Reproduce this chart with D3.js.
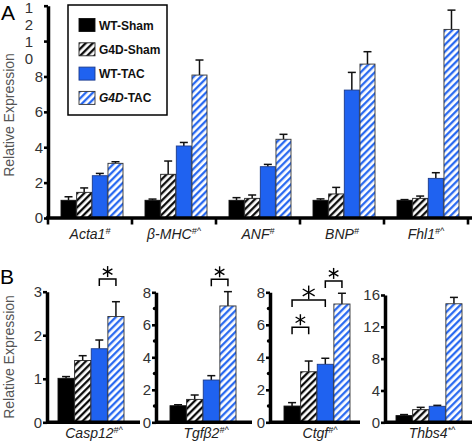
<!DOCTYPE html>
<html><head><meta charset="utf-8">
<script src="https://cdn.jsdelivr.net/npm/d3@7"></script>
<style>body{margin:0;background:#fff}svg{display:block}</style>
</head><body>
<svg id="c" width="472" height="444"></svg>
<script>
// ---------- DATA ----------
const series = ["WT-Sham", "G4D-Sham", "WT-TAC", "G4D-TAC"];

// Panel A
const genesA = ["Acta1", "β-MHC", "ANF", "BNP", "Fhl1"];
const supA = ["#", "#^", "#", "#", "#^"];
const wtShamA = [1.0, 1.0, 1.0, 1.0, 1.0];
const g4dShamA = [1.45, 2.47, 1.11, 1.36, 1.11];
const wtTacA = [2.39, 4.07, 2.9, 7.23, 2.24];
const g4dTacA = [3.09, 8.08, 4.45, 8.7, 10.66];
const wtShamErrA = [0.2, 0.07, 0.15, 0.08, 0.04];
const g4dShamErrA = [0.25, 0.75, 0.19, 0.37, 0.13];
const wtTacErrA = [0.13, 0.2, 0.13, 1.0, 0.32];
const g4dTacErrA = [0.09, 0.85, 0.28, 0.7, 1.09];
const ticksA = [0, 2, 4, 6, 8, 10, 12];

// Panel B
const genesB = ["Casp12", "Tgfβ2", "Ctgf", "Thbs4"];
const supB = ["#^", "#^", "#^", "*^"];
const wtShamB = [1.01, 1.02, 1.0, 0.84];
const g4dShamB = [1.42, 1.41, 3.11, 1.59];
const wtTacB = [1.69, 2.6, 3.57, 2.01];
const g4dTacB = [2.43, 7.16, 7.28, 14.9];
const wtShamErrB = [0.04, 0.06, 0.21, 0.13];
const g4dShamErrB = [0.11, 0.27, 0.66, 0.29];
const wtTacErrB = [0.2, 0.27, 0.37, 0.12];
const g4dTacErrB = [0.34, 0.88, 0.66, 0.8];
const yMaxB = [3, 8, 8, 16];
const ticksB = [[0, 1, 2, 3], [0, 2, 4, 6, 8], [0, 2, 4, 6, 8], [0, 4, 8, 12, 16]];
const minorTicksB = [[], [1, 3, 5, 7], [1, 3, 5, 7], []];

// significance brackets (panel B)
const brGene = [0, 1, 2, 2, 2];
const brFrom = [2, 2, 0, 0, 2];
const brTo = [3, 3, 1, 2, 3];
const brLevel = [3.29, 8.8, 5.85, 7.53, 8.7];
const brStar = [1, 1, 1, 1.25, 1];

// ---------- STYLE / LAYOUT ----------
const FONT = "'Liberation Sans', Arial, Helvetica, sans-serif";
const BLUE = "#1f62f0";
const svg = d3.select("#c");

const defs = svg.append("defs");
function hatch(id, color) {
  const p = defs.append("pattern").attr("id", id).attr("patternUnits", "userSpaceOnUse")
    .attr("width", 5).attr("height", 5).attr("patternTransform", "rotate(45)");
  p.append("rect").attr("width", 5).attr("height", 5).attr("fill", "#fff");
  p.append("line").attr("x1", 1.2).attr("y1", 0).attr("x2", 1.2).attr("y2", 5)
    .attr("stroke", color).attr("stroke-width", 2.2);
}
hatch("hK", "#000");
hatch("hB", BLUE);
const fills = ["#000", "url(#hK)", BLUE, "url(#hB)"];
const strokes = ["#111", "#222", "#1b3a8a", "#333"];

function styleAxis(g) {
  g.select(".domain").attr("stroke", "#000").attr("stroke-width", 3.5);
  g.selectAll(".tick line").attr("stroke", "#000").attr("stroke-width", 2.6);
  g.selectAll(".tick text").attr("fill", "#333").style("font-size", "15px").style("font-family", FONT);
}

function star(g, cx, cy, r) {
  [90, 30, 150].forEach(a => {
    const t = a * Math.PI / 180;
    g.append("line").attr("x1", cx - r * Math.cos(t)).attr("y1", cy - r * Math.sin(t))
      .attr("x2", cx + r * Math.cos(t)).attr("y2", cy + r * Math.sin(t))
      .attr("stroke", "#000").attr("stroke-width", 1.4);
  });
}

function label(g, x, y, main, sup) {
  const t = g.append("text").attr("x", x).attr("y", y).attr("text-anchor", "middle")
    .style("font-family", FONT).style("font-size", "14px").style("font-style", "italic").attr("fill", "#222");
  t.append("tspan").text(main);
  t.append("tspan").attr("dy", -5).style("font-size", "9px").text(sup);
}

// ---------- PANEL A ----------
const A = svg.append("g");
const yA = d3.scaleLinear().domain([0, 12]).range([218, 5.7]);
const xA = d3.scaleBand().domain(genesA).range([48, 468]);
const xInA = d3.scaleBand().domain(series).range([13, 75]).paddingInner(0.04);
const valsA = [wtShamA, g4dShamA, wtTacA, g4dTacA];
const errsA = [wtShamErrA, g4dShamErrA, wtTacErrA, g4dTacErrA];

genesA.forEach((gname, i) => {
  series.forEach((s, k) => {
    const v = valsA[k][i], e = errsA[k][i];
    const x0 = xA(gname) + xInA(s), w = xInA.bandwidth(), cx = x0 + w / 2;
    A.append("line").attr("x1", cx).attr("x2", cx).attr("y1", yA(v)).attr("y2", yA(v + e))
      .attr("stroke", "#111").attr("stroke-width", 1.5);
    A.append("line").attr("x1", cx - 4).attr("x2", cx + 4).attr("y1", yA(v + e)).attr("y2", yA(v + e))
      .attr("stroke", "#111").attr("stroke-width", 1.5);
    A.append("rect").attr("x", x0).attr("y", yA(v)).attr("width", w).attr("height", yA(0) - yA(v))
      .attr("fill", fills[k]).attr("stroke", strokes[k]).attr("stroke-width", 0.9);
  });
  label(A, xA(gname) + xA.bandwidth() / 2, 238.5, gname, supA[i]);
});

// x axis A
A.append("line").attr("x1", 46).attr("x2", 472).attr("y1", yA(0)).attr("y2", yA(0))
  .attr("stroke", "#000").attr("stroke-width", 3.5);
const bounds = genesA.map(g => xA(g)).concat([xA(genesA[genesA.length - 1]) + xA.bandwidth()]);
bounds.forEach(bx => A.append("line").attr("x1", bx).attr("x2", bx).attr("y1", yA(0)).attr("y2", yA(0) + 6.5)
  .attr("stroke", "#000").attr("stroke-width", 2.6));

// y axis A
const gyA = A.append("g").attr("transform", "translate(48,0)")
  .call(d3.axisLeft(yA).tickValues(ticksA).tickFormat(d3.format("d")).tickSizeInner(4).tickSizeOuter(0).tickPadding(1));
styleAxis(gyA);
gyA.selectAll(".tick text").each(function (d) {
  if (d >= 10) {
    const t = d3.select(this).text(null).attr("text-anchor", "middle").attr("x", -19).attr("dy", null);
    const first = d >= 12 ? 7 : 5.5;
    String(d).split("").forEach((ch, j) => t.append("tspan").attr("x", -19).attr("dy", j === 0 ? first : 16.5).text(ch));
  }
});
svg.append("text").attr("transform", "translate(14,115) rotate(-90)").attr("text-anchor", "middle")
  .style("font-family", FONT).style("font-size", "14px").attr("fill", "#555").text("Relative Expression");

// legend
const L = svg.append("g");
L.append("rect").attr("x", 68).attr("y", 5).attr("width", 99).attr("height", 110)
  .attr("fill", "#fff").attr("stroke", "#000").attr("stroke-width", 1.5);
series.forEach((s, k) => {
  const cy = 25 + k * 24.3;
  L.append("rect").attr("x", 79).attr("y", cy - 6.5).attr("width", 16).attr("height", 13)
    .attr("fill", fills[k]).attr("stroke", strokes[k]).attr("stroke-width", 0.9);
  const t = L.append("text").attr("x", 99).attr("y", cy + 4.5).style("font-family", FONT)
    .style("font-size", "12px").style("font-weight", "bold").attr("fill", "#111");
  if (s === "G4D-TAC") {
    t.append("tspan").style("font-style", "italic").text("G4D");
    t.append("tspan").text("-TAC");
  } else t.text(s);
});

svg.append("text").attr("x", 1).attr("y", 20).style("font-family", FONT).style("font-size", "21px").text("A");
svg.append("text").attr("x", 0).attr("y", 284).style("font-family", FONT).style("font-size", "21px").text("B");

// ---------- PANEL B ----------
const B = svg.append("g");
const axisX = [47, 156, 270, 385];
const axisEnd = [140, 252, 360, 472];
const groupOff = [11, 14, 14, 11];
const topY = [291.7, 292.3, 292.3, 295];
const valsB = [wtShamB, g4dShamB, wtTacB, g4dTacB];
const errsB = [wtShamErrB, g4dShamErrB, wtTacErrB, g4dTacErrB];
const centers = [];

genesB.forEach((gname, i) => {
  const y = d3.scaleLinear().domain([0, yMaxB[i]]).range([422.3, topY[i]]);
  const xi = d3.scaleBand().domain(series).range([axisX[i] + groupOff[i], axisX[i] + groupOff[i] + 66]).paddingInner(0.03);
  centers.push({ y, xi });
  series.forEach((s, k) => {
    const v = valsB[k][i], e = errsB[k][i];
    const x0 = xi(s), w = xi.bandwidth(), cx = x0 + w / 2;
    B.append("line").attr("x1", cx).attr("x2", cx).attr("y1", y(v)).attr("y2", y(v + e))
      .attr("stroke", "#111").attr("stroke-width", 1.5);
    B.append("line").attr("x1", cx - 4).attr("x2", cx + 4).attr("y1", y(v + e)).attr("y2", y(v + e))
      .attr("stroke", "#111").attr("stroke-width", 1.5);
    B.append("rect").attr("x", x0).attr("y", y(v)).attr("width", w).attr("height", y(0) - y(v))
      .attr("fill", fills[k]).attr("stroke", strokes[k]).attr("stroke-width", 0.9);
  });
  // x axis
  B.append("line").attr("x1", axisX[i] - 1).attr("x2", axisEnd[i]).attr("y1", y(0)).attr("y2", y(0))
    .attr("stroke", "#000").attr("stroke-width", 3.5);
  // y axis
  const gy = B.append("g").attr("transform", `translate(${axisX[i]},0)`)
    .call(d3.axisLeft(y).tickValues(ticksB[i]).tickFormat(d3.format("d")).tickSizeInner(4).tickSizeOuter(0).tickPadding(1));
  styleAxis(gy);
  minorTicksB[i].forEach(m => B.append("circle").attr("cx", axisX[i] - 1.5).attr("cy", y(m)).attr("r", 1.7).attr("fill", "#000"));
  label(B, xi(series[0]) + 33 + 3, 438.3, gname, supB[i]);
});

brGene.forEach((gi, j) => {
  const { y, xi } = centers[gi];
  const xa = xi(series[brFrom[j]]) + xi.bandwidth() / 2;
  const xb = xi(series[brTo[j]]) + xi.bandwidth() / 2;
  const yt = y(brLevel[j]);
  B.append("path").attr("d", `M${xa},${yt + 7}V${yt}H${xb}V${yt + 7}`)
    .attr("fill", "none").attr("stroke", "#000").attr("stroke-width", 1.5);
  star(B, (xa + xb) / 2, yt - 7.5, 5.5 * brStar[j]);
});

svg.append("text").attr("transform", "translate(14,357) rotate(-90)").attr("text-anchor", "middle")
  .style("font-family", FONT).style("font-size", "14px").attr("fill", "#555").text("Relative Expression");
</script>
</body></html>
